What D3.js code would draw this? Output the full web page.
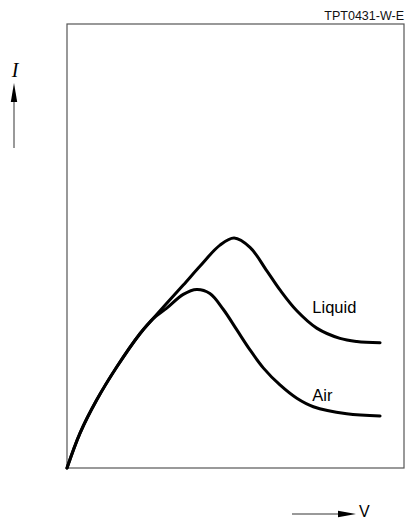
<!DOCTYPE html>
<html>
<head>
<meta charset="utf-8">
<script src="https://cdn.jsdelivr.net/npm/d3@7"></script>
<style>
  html, body { margin: 0; padding: 0; background: #fff; }
  svg { display: block; }
</style>
</head>
<body>
<svg id="chart" width="408" height="520"></svg>
<script>
// ---- data (arbitrary units, V on x, I on y) ----
const chartId = "TPT0431-W-E";
const xLabel = "V";
const yLabel = "I";
const seriesNames = ["Liquid", "Air"];

const sharedV = [0, 3.9, 8.8, 14.8, 21.7, 25.5];
const sharedI = [0, 7.9, 15.3, 22.8, 30.3, 33.6];

const liquidV = [29.6, 34.5, 39.5, 45.4, 49.6, 54.3, 59.3, 63.2, 68.2, 74.1, 81.0, 86.0, 92.9];
const liquidI = [37.1, 41.2, 45.5, 50.2, 51.8, 49.7, 44.4, 40.1, 35.4, 31.5, 29.2, 28.5, 28.2];

const airV = [29.6, 34.5, 38.5, 42.4, 46.4, 50.4, 54.3, 58.3, 63.2, 68.2, 73.1, 83.0, 92.9];
const airI = [36.0, 39.1, 40.2, 39.3, 35.7, 31.1, 26.6, 22.5, 18.7, 15.7, 13.8, 12.2, 11.7];

// label anchor points in data units
const labelV = [72.8, 72.8];
const labelI = [34.9, 15.2];

// ---- layout ----
const svg = d3.select("#chart");
const mLeft = 67, mRight = 404, mTop = 24, mBottom = 468;

const x = d3.scaleLinear().domain([0, 100]).range([mLeft, mRight]);
const y = d3.scaleLinear().domain([0, 100]).range([mBottom, mTop]);

// frame
svg.append("rect")
  .attr("x", mLeft).attr("y", mTop)
  .attr("width", mRight - mLeft).attr("height", mBottom - mTop)
  .attr("fill", "none").attr("stroke", "#555").attr("stroke-width", 1.2);

// title id
svg.append("text")
  .attr("x", mRight).attr("y", 20)
  .attr("text-anchor", "end")
  .attr("font-family", "Liberation Sans, Arial, sans-serif")
  .attr("font-size", 12.5)
  .attr("fill", "#111")
  .text(chartId);

// curves
const line = d3.line()
  .x(d => x(d[0])).y(d => y(d[1]))
  .curve(d3.curveCatmullRom.alpha(0.5));

const shared = sharedV.map((v, i) => [v, sharedI[i]]);
const curves = [
  shared.concat(liquidV.map((v, i) => [v, liquidI[i]])),
  shared.concat(airV.map((v, i) => [v, airI[i]]))
];

svg.selectAll("path.curve")
  .data(curves)
  .join("path")
  .attr("class", "curve")
  .attr("d", line)
  .attr("fill", "none")
  .attr("stroke", "#000")
  .attr("stroke-width", 3)
  .attr("stroke-linejoin", "round")
  .attr("stroke-linecap", "round");

// series labels
svg.selectAll("text.lbl")
  .data(seriesNames)
  .join("text")
  .attr("class", "lbl")
  .attr("x", (d, i) => x(labelV[i]))
  .attr("y", (d, i) => y(labelI[i]))
  .attr("font-family", "Liberation Sans, Arial, sans-serif")
  .attr("font-size", 16.5)
  .attr("fill", "#000")
  .text(d => d);

// y-axis arrow (I)
const ax = 14;
svg.append("line")
  .attr("x1", ax).attr("x2", ax)
  .attr("y1", 148).attr("y2", 100)
  .attr("stroke", "#777").attr("stroke-width", 1.5);
svg.append("path")
  .attr("d", `M${ax},83 L${ax - 3.2},102 L${ax + 3.2},102 Z`)
  .attr("fill", "#000");
svg.append("text")
  .attr("x", 15).attr("y", 77)
  .attr("text-anchor", "middle")
  .attr("font-family", "Liberation Serif, Times New Roman, serif")
  .attr("font-style", "italic")
  .attr("font-size", 20)
  .attr("fill", "#000")
  .text(yLabel);

// x-axis arrow (V)
const ay = 514;
svg.append("line")
  .attr("x1", 292).attr("x2", 340)
  .attr("y1", ay).attr("y2", ay)
  .attr("stroke", "#777").attr("stroke-width", 1.5);
svg.append("path")
  .attr("d", `M356,${ay} L338,${ay - 3.2} L338,${ay + 3.2} Z`)
  .attr("fill", "#000");
svg.append("text")
  .attr("x", 359).attr("y", 517)
  .attr("font-family", "Liberation Sans, Arial, sans-serif")
  .attr("font-size", 16)
  .attr("fill", "#000")
  .text(xLabel);
</script>
</body>
</html>
